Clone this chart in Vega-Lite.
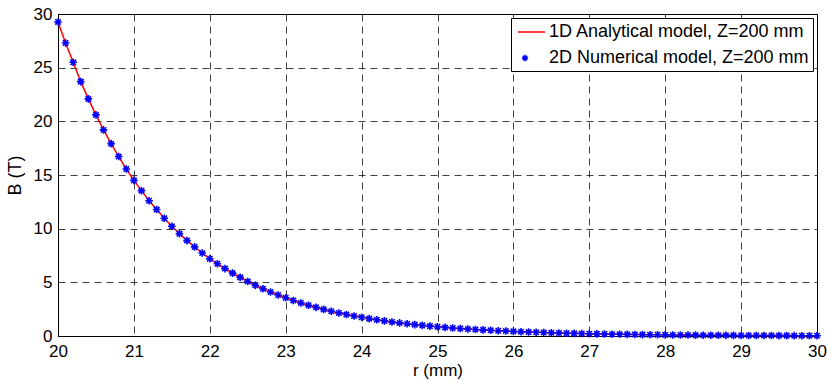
{
  "$schema": "https://vega.github.io/schema/vega-lite/v6.json",
  "width": 759,
  "height": 322,
  "autosize": "none",
  "padding": {"left": 58, "top": 14, "right": 10, "bottom": 45},
  "background": "white",
  "config": {
    "font": "Liberation Sans",
    "view": {"stroke": "#000", "strokeWidth": 1},
    "axis": {
      "labelFontSize": 17,
      "titleFontSize": 17,
      "titleFontWeight": "normal",
      "labelColor": "#000",
      "titleColor": "#000",
      "grid": true,
      "gridColor": "#000",
      "gridOpacity": 0.75,
      "gridDash": [7, 5],
      "gridWidth": 1,
      "domainColor": "#000",
      "ticks": false
    },
    "legend": {
      "orient": "top-right",
      "offset": 4,
      "padding": 4,
      "strokeColor": "#000",
      "fillColor": "white",
      "labelFontSize": 18,
      "labelColor": "#000",
      "labelLimit": 400,
      "symbolSize": 324,
      "symbolStrokeWidth": 1.5,
      "rowPadding": 7,
      "labelOffset": 14
    }
  },
  "data": {
    "values": [
      {"r": 20.0, "B": 29.26}, {"r": 20.1, "B": 27.30}, {"r": 20.2, "B": 25.50}, {"r": 20.3, "B": 23.70},
      {"r": 20.4, "B": 22.09}, {"r": 20.5, "B": 20.60}, {"r": 20.6, "B": 19.20}, {"r": 20.7, "B": 17.92},
      {"r": 20.8, "B": 16.72}, {"r": 20.9, "B": 15.56}, {"r": 21.0, "B": 14.50}, {"r": 21.1, "B": 13.54},
      {"r": 21.2, "B": 12.60}, {"r": 21.3, "B": 11.78}, {"r": 21.4, "B": 10.97}, {"r": 21.5, "B": 10.22},
      {"r": 21.6, "B": 9.54}, {"r": 21.7, "B": 8.89}, {"r": 21.8, "B": 8.30}, {"r": 21.9, "B": 7.73},
      {"r": 22.0, "B": 7.20}, {"r": 22.1, "B": 6.73}, {"r": 22.2, "B": 6.28}, {"r": 22.3, "B": 5.86},
      {"r": 22.4, "B": 5.46}, {"r": 22.5, "B": 5.08}, {"r": 22.6, "B": 4.72}, {"r": 22.7, "B": 4.40},
      {"r": 22.8, "B": 4.10}, {"r": 22.9, "B": 3.82}, {"r": 23.0, "B": 3.56}, {"r": 23.1, "B": 3.31},
      {"r": 23.2, "B": 3.08}, {"r": 23.3, "B": 2.87}, {"r": 23.4, "B": 2.67}, {"r": 23.5, "B": 2.48},
      {"r": 23.6, "B": 2.31}, {"r": 23.7, "B": 2.15}, {"r": 23.8, "B": 2.00}, {"r": 23.9, "B": 1.86},
      {"r": 24.0, "B": 1.74}, {"r": 24.1, "B": 1.62}, {"r": 24.2, "B": 1.51}, {"r": 24.3, "B": 1.41},
      {"r": 24.4, "B": 1.31}, {"r": 24.5, "B": 1.22}, {"r": 24.6, "B": 1.14}, {"r": 24.7, "B": 1.06},
      {"r": 24.8, "B": 0.99}, {"r": 24.9, "B": 0.92}, {"r": 25.0, "B": 0.86}, {"r": 25.1, "B": 0.80},
      {"r": 25.2, "B": 0.75}, {"r": 25.3, "B": 0.70}, {"r": 25.4, "B": 0.65}, {"r": 25.5, "B": 0.61},
      {"r": 25.6, "B": 0.57}, {"r": 25.7, "B": 0.53}, {"r": 25.8, "B": 0.49}, {"r": 25.9, "B": 0.46},
      {"r": 26.0, "B": 0.43}, {"r": 26.1, "B": 0.40}, {"r": 26.2, "B": 0.37}, {"r": 26.3, "B": 0.35},
      {"r": 26.4, "B": 0.32}, {"r": 26.5, "B": 0.30}, {"r": 26.6, "B": 0.28}, {"r": 26.7, "B": 0.26},
      {"r": 26.8, "B": 0.245}, {"r": 26.9, "B": 0.23}, {"r": 27.0, "B": 0.21}, {"r": 27.1, "B": 0.20},
      {"r": 27.2, "B": 0.185}, {"r": 27.3, "B": 0.17}, {"r": 27.4, "B": 0.16}, {"r": 27.5, "B": 0.15},
      {"r": 27.6, "B": 0.14}, {"r": 27.7, "B": 0.13}, {"r": 27.8, "B": 0.12}, {"r": 27.9, "B": 0.115},
      {"r": 28.0, "B": 0.107}, {"r": 28.1, "B": 0.10}, {"r": 28.2, "B": 0.093}, {"r": 28.3, "B": 0.087},
      {"r": 28.4, "B": 0.081}, {"r": 28.5, "B": 0.075}, {"r": 28.6, "B": 0.07}, {"r": 28.7, "B": 0.065},
      {"r": 28.8, "B": 0.061}, {"r": 28.9, "B": 0.057}, {"r": 29.0, "B": 0.053}, {"r": 29.1, "B": 0.049},
      {"r": 29.2, "B": 0.046}, {"r": 29.3, "B": 0.043}, {"r": 29.4, "B": 0.04}, {"r": 29.5, "B": 0.037},
      {"r": 29.6, "B": 0.035}, {"r": 29.7, "B": 0.032}, {"r": 29.8, "B": 0.03}, {"r": 29.9, "B": 0.028},
      {"r": 30.0, "B": 0.026}
    ]
  },
  "encoding": {
    "x": {
      "field": "r", "type": "quantitative", "title": "r (mm)",
      "scale": {"domain": [20, 30], "nice": false},
      "axis": {"values": [20, 21, 22, 23, 24, 25, 26, 27, 28, 29, 30], "labelPadding": 7, "titlePadding": 3, "labelFlush": false}
    },
    "y": {
      "field": "B", "type": "quantitative", "title": "B (T)",
      "scale": {"domain": [0, 30], "nice": false},
      "axis": {"values": [0, 5, 10, 15, 20, 25, 30], "labelPadding": 6, "titlePadding": 9, "labelFlush": false, "titleFontSize": 18}
    }
  },
  "layer": [
    {
      "mark": {"type": "line", "strokeWidth": 1.5},
      "encoding": {
        "color": {
          "datum": "1D Analytical model, Z=200 mm",
          "scale": {"domain": ["1D Analytical model, Z=200 mm", "2D Numerical model, Z=200 mm"], "range": ["#ff0000", "#0000ff"]},
          "legend": {"title": null}
        }
      }
    },
    {
      "mark": {"type": "point", "filled": false, "size": 471, "strokeWidth": 1.6, "opacity": 1},
      "encoding": {
        "color": {"datum": "2D Numerical model, Z=200 mm"},
        "shape": {
          "datum": "2D Numerical model, Z=200 mm",
          "scale": {"domain": ["1D Analytical model, Z=200 mm", "2D Numerical model, Z=200 mm"], "range": ["M-0.78,0L2.22,0", "M-0.35,0L0.35,0M0,-0.35L0,0.35M-0.25,-0.25L0.25,0.25M-0.25,0.25L0.25,-0.25"]},
          "legend": {"title": null}
        }
      }
    }
  ]
}
